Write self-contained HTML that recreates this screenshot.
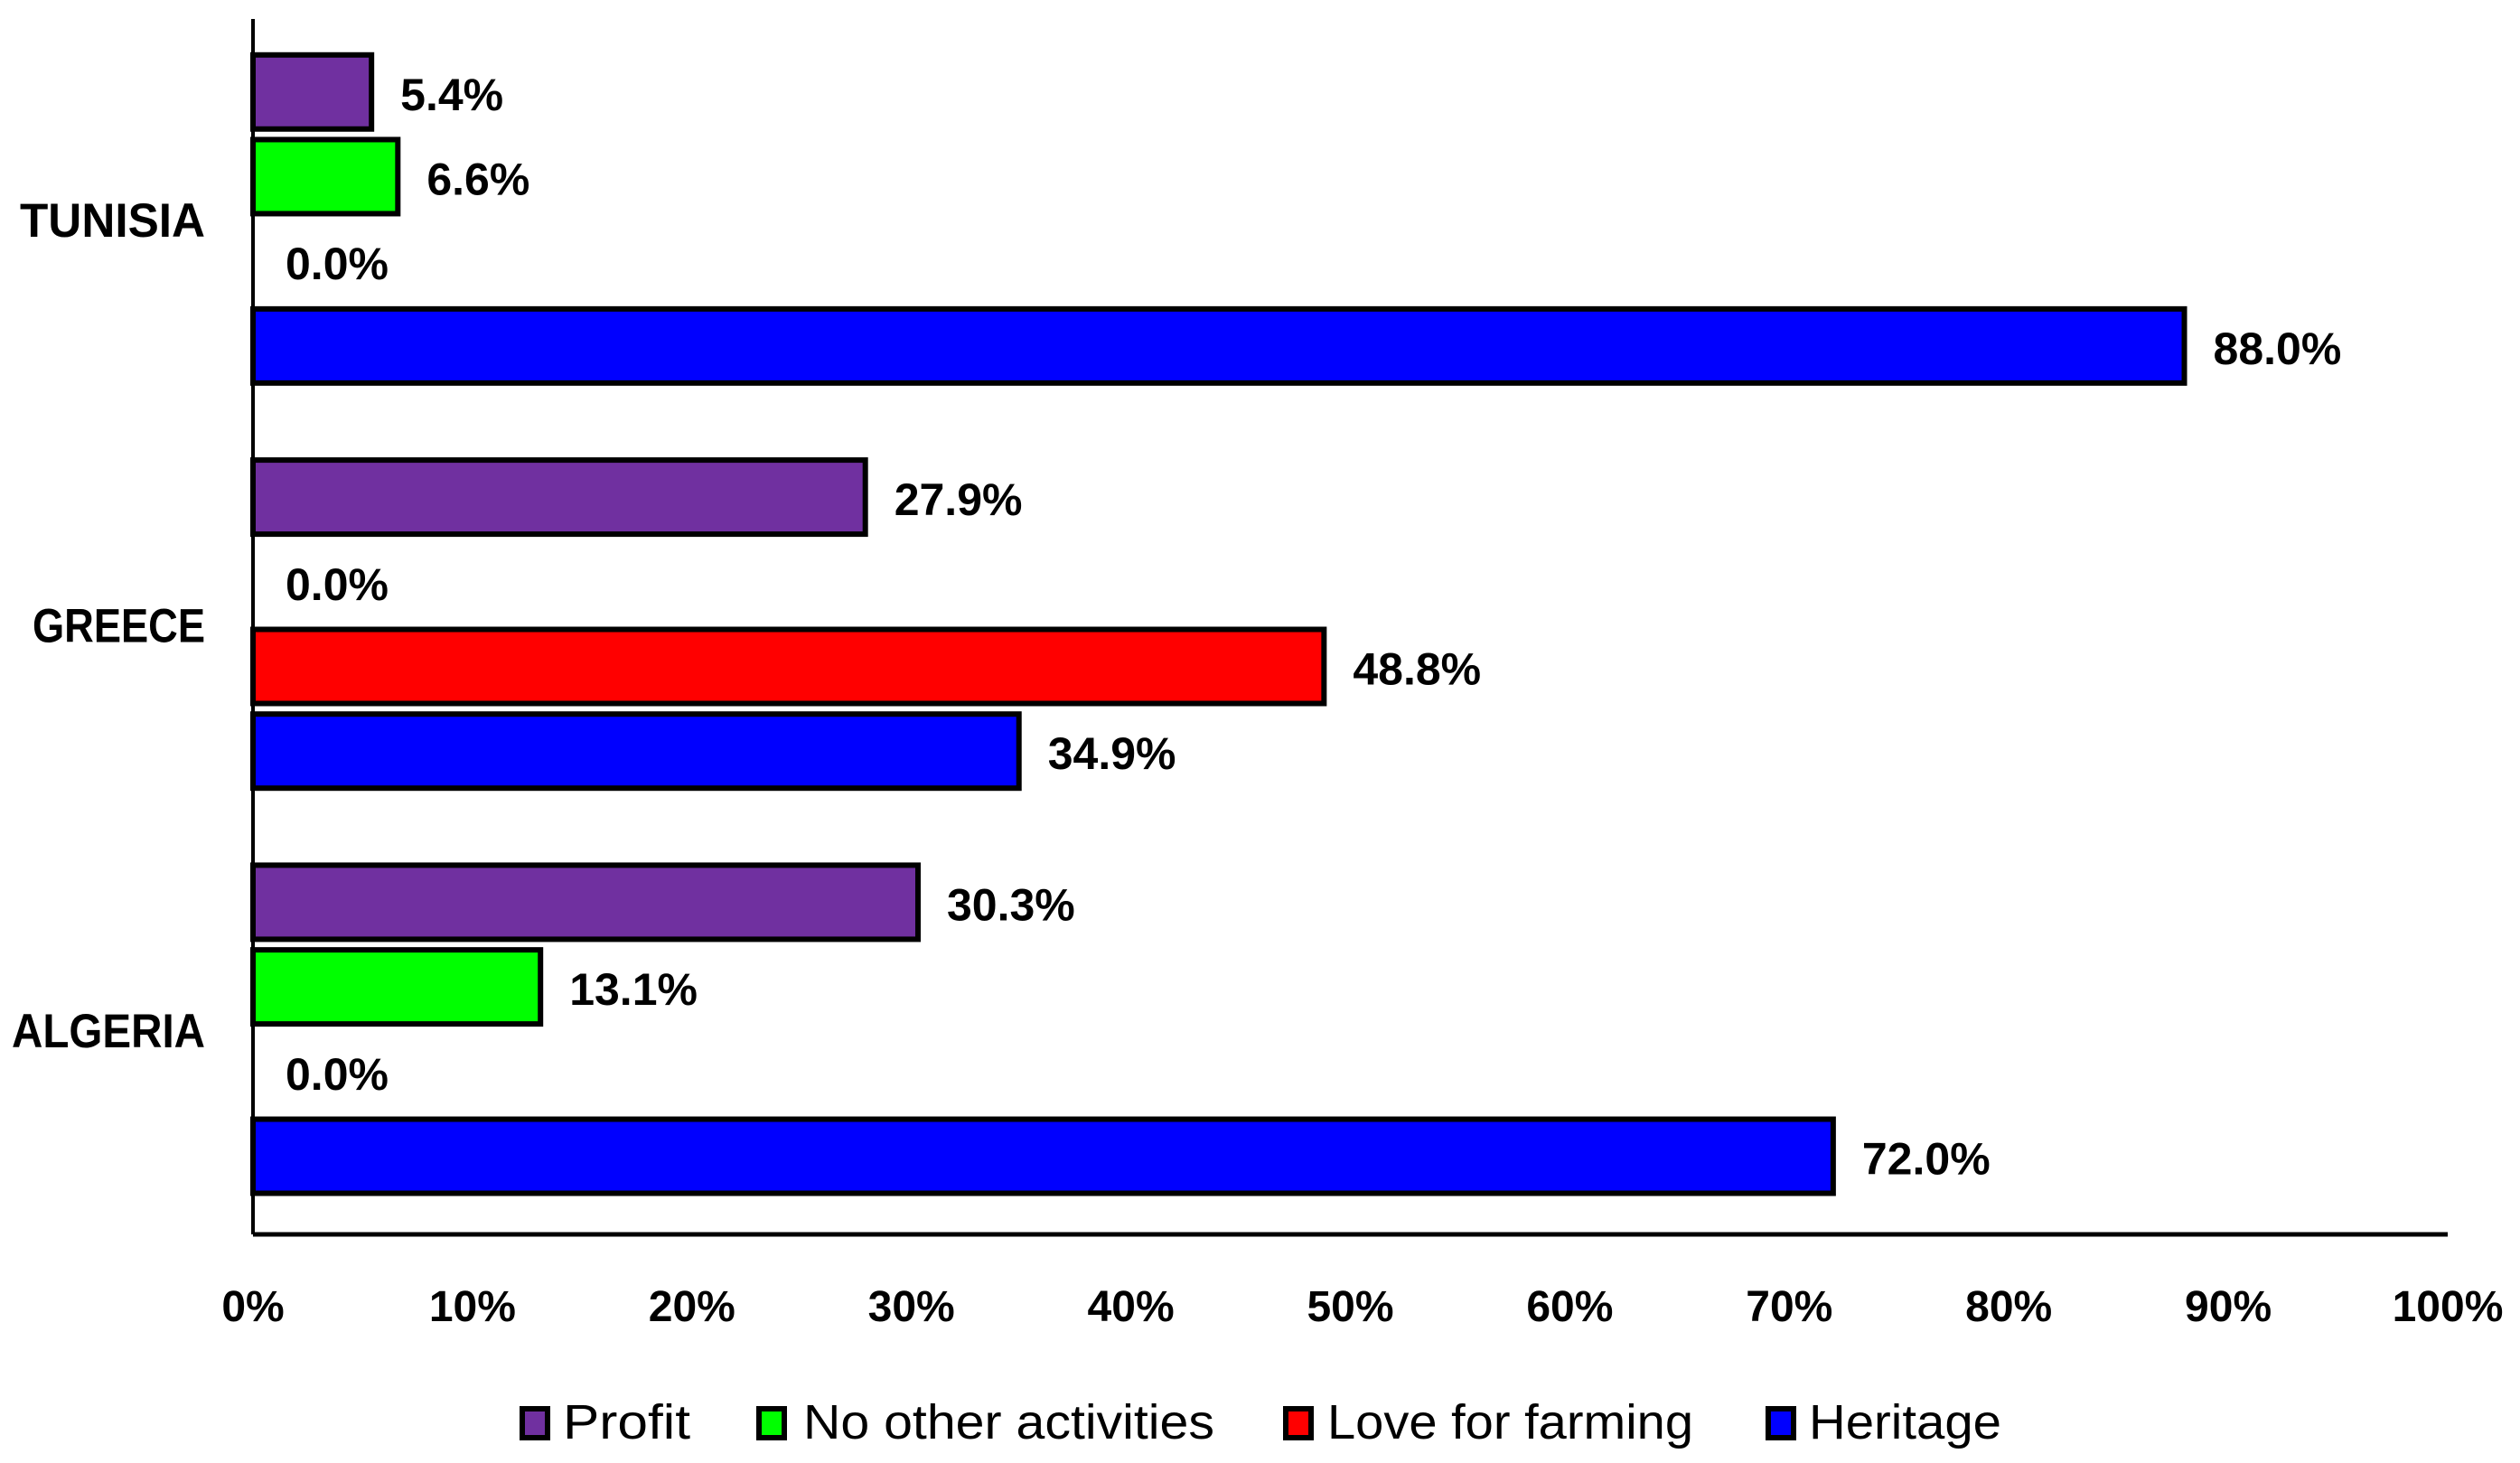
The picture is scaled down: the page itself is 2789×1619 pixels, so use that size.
<!DOCTYPE html>
<html><head><meta charset="utf-8"><style>
html,body{margin:0;padding:0;background:#fff;}
svg{display:block;font-family:"Liberation Sans",sans-serif;}
</style></head><body>
<svg id="chart" width="2789" height="1619" viewBox="0 0 2789 1619" xmlns="http://www.w3.org/2000/svg">
<g id="bars"></g>
<g id="labels"></g>
<g id="cats"></g>
<g id="ticks"></g>
<line x1="280" y1="21" x2="280" y2="1366" stroke="#000" stroke-width="4"/>
<line x1="280" y1="1366" x2="2709" y2="1366" stroke="#000" stroke-width="5"/>
<g id="legend"></g>
</svg>
<script>
const categories = ["TUNISIA", "GREECE", "ALGERIA"];
const seriesNames = ["Profit", "No other activities", "Love for farming", "Heritage"];
const profit = [5.4, 27.9, 30.3];
const noOther = [6.6, 0.0, 13.1];
const loveFarming = [0.0, 48.8, 0.0];
const heritage = [88.0, 34.9, 72.0];
const tickLabels = ["0%","10%","20%","30%","40%","50%","60%","70%","80%","90%","100%"];

const NS = "http://www.w3.org/2000/svg";
const colors = ["#7030A0", "#00FF00", "#FF0000", "#0000FF"];
const series = [profit, noOther, loveFarming, heritage];
const x0 = 280, x1 = 2709, yTop = 21, yBot = 1366;
function xs(v){ return x0 + v/100*(x1-x0); }
const band = (yBot - yTop)/categories.length;
const slot = 93.7;
function ys(ci, si){ return yTop + ci*band + (band - 4*slot)/2 + si*slot; }
function mk(tag, attrs, parent){ const e=document.createElementNS(NS,tag); for(const k in attrs) e.setAttribute(k, attrs[k]); parent.appendChild(e); return e; }

const gb=document.getElementById('bars'), gl=document.getElementById('labels'), gc=document.getElementById('cats'), gt=document.getElementById('ticks'), gleg=document.getElementById('legend');
const bh = 82;
const catWidths = [205, 191, 214];
categories.forEach((c, ci) => {
  series.forEach((arr, si) => {
    const v = arr[ci];
    const y = ys(ci, si) + 3;
    if (v > 0) {
      const r = mk('rect', {x: x0, y: y, width: xs(v)-x0, height: bh, fill: colors[si], stroke: '#000', 'stroke-width': 6}, gb);
      
      
    }
    const t = mk('text', {x: xs(v) + (v > 0 ? 32 : 36), y: y + bh/2 + 20, 'font-size': 50, 'font-weight': 'bold', fill: '#000'}, gl);
    t.textContent = v.toFixed(1) + '%';
    
    
  });
  const ct = mk('text', {x: 227 - catWidths[ci], y: yTop + ci*band + band/2 + 17, 'font-size': 53, 'font-weight': 'bold', fill: '#000', textLength: catWidths[ci], lengthAdjust: 'spacingAndGlyphs'}, gc);
  ct.textContent = c;
  
  
});
tickLabels.forEach((lab, i) => {
  const t = mk('text', {x: xs(i*10), y: 1462, 'font-size': 48, 'font-weight': 'bold', 'text-anchor': 'middle', fill: '#000'}, gt);
  t.textContent = lab;
  
  
});
const legSw = [575, 837, 1420, 1954];
const legTx = [[623,141],[889,455],[1469,405],[2002,213]];
seriesNames.forEach((n, i) => {
  const s = mk('rect', {x: legSw[i]+3, y: 1559, width: 28, height: 32, fill: colors[i], stroke: '#000', 'stroke-width': 6}, gleg);
  
  
  const t = mk('text', {x: legTx[i][0], y: 1592, 'font-size': 54, fill: '#000', textLength: legTx[i][1], lengthAdjust: 'spacingAndGlyphs'}, gleg);
  t.textContent = n;
  
  
});
</script>
</body></html>
